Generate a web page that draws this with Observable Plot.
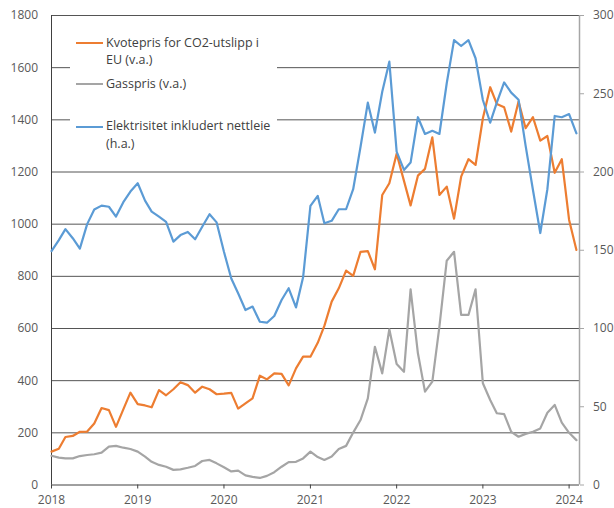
<!DOCTYPE html>
<html>
<head>
<meta charset="utf-8">
<script src="https://cdn.jsdelivr.net/npm/d3@7"></script>
<script src="https://cdn.jsdelivr.net/npm/@observablehq/plot@0.6"></script>
<style>
  html, body { margin: 0; padding: 0; background: white; }
  #wrap { position: relative; width: 614px; height: 508px; font-family: "Open Sans", sans-serif; }
  #legend { position: absolute; left: 70px; top: 22px; width: 207px; height: 146px; background: white; }
  .sw { position: absolute; left: 76px; width: 27px; height: 2px; }
  .lt { position: absolute; left: 106px; font-size: 12.5px; line-height: 17.7px; color: #404040; white-space: nowrap; }
</style>
</head>
<body>
<div id="wrap"></div>
<script>
// Monthly series, Jan 2018 – Feb 2024
const co2 = [128,139,184,188,204,205,236,295,287,223,290,354,310,305,298,364,344,367,394,383,354,377,367,348,350,353,293,313,332,419,405,428,426,382,447,492,492,545,610,703,754,822,802,894,897,827,1112,1157,1270,1166,1072,1186,1212,1333,1112,1144,1021,1182,1249,1227,1406,1525,1461,1448,1355,1470,1368,1410,1320,1338,1197,1249,1016,901];
const gas = [112,105,102,102,111,115,118,124,147,150,143,138,128,109,89,77,70,58,60,66,73,92,96,83,68,52,55,37,31,27,35,49,70,88,89,102,128,107,96,109,138,150,201,249,332,530,428,597,464,434,750,505,358,396,607,860,894,652,652,750,390,326,275,272,204,185,196,204,217,277,307,239,200,172];
const elec = [149.5,156.5,163.5,157.7,151,166.7,176,178.5,177.8,171.5,180.7,187.5,192.8,181.7,174.7,171.5,168.2,155.5,159.7,161.7,157,165,173,167.8,149,132,122.5,111.8,114,104.3,103.7,108,118.2,125.7,113.5,132.7,178.3,184.7,167.2,168.8,176.2,176.2,189,216,244.3,225.2,251.3,270.5,213,201.3,206,235,224.3,226.3,224.3,256.7,284.3,280.5,284.3,272.7,246,231.5,244.3,257.2,250.7,246.2,216.7,188.5,161,189,235.8,235,237,224.7];
const leftTicks = [0,200,400,600,800,1000,1200,1400,1600,1800];
const rightTicks = [0,50,100,150,200,250,300];
const yearTicks = [2018,2019,2020,2021,2022,2023,2024];
const seriesNames = ["Kvotepris for CO2-utslipp i\nEU (v.a.)", "Gasspris (v.a.)", "Elektrisitet inkludert nettleie\n(h.a.)"];
const colors = ["#ED7D31", "#A5A5A5", "#5B9BD5"];

const ratio = 1800 / 300;
const x0 = new Date(Date.UTC(2018, 0, 1));
const x1 = new Date(Date.UTC(2024, 1, 14));
const dates = d3.utcMonth.range(x0, new Date(Date.UTC(2024, 2, 1)));
const rows = dates.map((d, i) => ({date: d, co2: co2[i], gas: gas[i], elec: elec[i]}));
const yearDates = yearTicks.map(y => new Date(Date.UTC(y, 0, 1)));

const chart = Plot.plot({
  width: 614, height: 508,
  marginLeft: 51, marginRight: 35, marginTop: 15, marginBottom: 23.5,
  x: {type: "utc", domain: [x0, x1]},
  y: {domain: [0, 1800]},
  style: {fontFamily: "Open Sans", fontSize: "12px", color: "#595959", background: "white"},
  marks: [
    Plot.ruleY(leftTicks.slice(1), {stroke: "#555555", strokeWidth: 1}),
    Plot.ruleY([0], {stroke: "#404040", strokeWidth: 1}),
    Plot.ruleX([x0], {y1: 0, y2: 1800, stroke: "#404040", strokeWidth: 1}),
    Plot.ruleX([x1], {y1: 0, y2: 1800, stroke: "#a6a6a6", strokeWidth: 1.5}),
    Plot.line(rows, {x: "date", y: "co2", stroke: colors[0], strokeWidth: 2.2}),
    Plot.line(rows, {x: "date", y: "gas", stroke: colors[1], strokeWidth: 2.2}),
    Plot.line(rows, {x: "date", y: d => d.elec * ratio, stroke: colors[2], strokeWidth: 2.2}),
    Plot.axisY({anchor: "left", ticks: leftTicks, tickFormat: d => String(d), tickSize: 0, tickPadding: 13.5, label: null, fill: "#595959"}),
    Plot.axisY({anchor: "right", ticks: rightTicks.map(v => v * ratio), tickFormat: d => String(Math.round(d / ratio)), tickSize: 4, tickPadding: 9.5, label: null, stroke: "#a6a6a6", fill: "#595959"}),
    Plot.axisX({ticks: yearDates, tickFormat: d3.utcFormat("%Y"), tickSize: 4, tickPadding: 6, label: null, stroke: "#404040", fill: "#595959"})
  ]
});

const wrap = document.getElementById("wrap");
wrap.appendChild(chart);

// Legend overlay
const legend = document.createElement("div");
legend.id = "legend";
wrap.appendChild(legend);
const swY = [42.7, 84, 126.7];
const txtTop = [33.6, 74.6, 117.3];
seriesNames.forEach((name, i) => {
  const sw = document.createElement("div");
  sw.className = "sw";
  sw.style.top = (swY[i] - 1) + "px";
  sw.style.background = colors[i];
  wrap.appendChild(sw);
  const t = document.createElement("div");
  t.className = "lt";
  t.style.top = txtTop[i] + "px";
  t.innerHTML = name.split("\n").join("<br>");
  wrap.appendChild(t);
});
</script>
</body>
</html>
